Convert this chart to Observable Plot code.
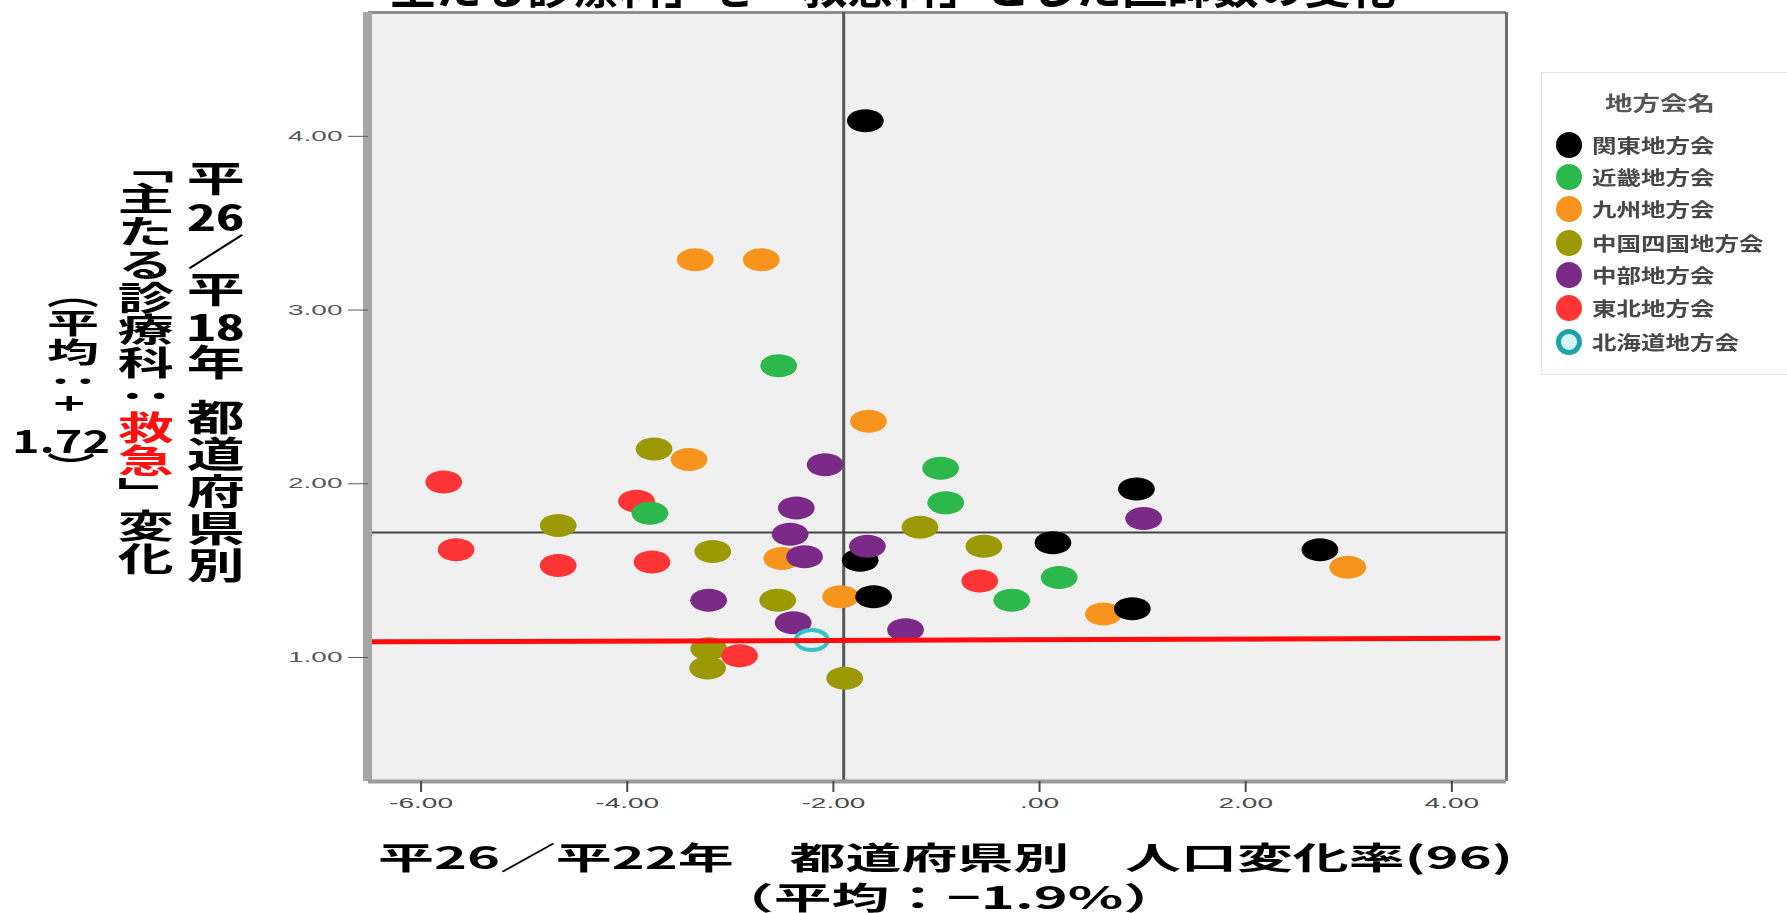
<!DOCTYPE html>
<html>
<head>
<meta charset="utf-8">
<script src="https://cdn.jsdelivr.net/npm/d3@7"></script>
<script src="https://cdn.jsdelivr.net/npm/@observablehq/plot@0.6"></script>
<style>
  body { margin: 0; background: #fff; }
  #wrap { position: relative; width: 1787px; height: 913px; overflow: hidden; background: #fff;
          font-family: "Noto Sans CJK JP", "Noto Sans", sans-serif; }
  #wrap > svg { position: absolute; left: 0; top: 0; }
  .t { position: absolute; white-space: nowrap; line-height: 1; transform-origin: 0 0; }
  .v { writing-mode: vertical-rl; text-orientation: mixed; }
  .tcy { text-combine-upright: all; }
</style>
</head>
<body>
<div id="wrap"></div>
<script>
// ---- scale settings ----
const xDomain = [-6.51, 4.53];
const yDomain = [0.286, 4.713];
const xTicks = [-6, -4, -2, 0, 2, 4];
const yTicks = [1, 2, 3, 4];
const meanX = [-1.9];
const meanY = [1.72];
const redLineX = [-6.5, 4.45];
const redLineY = [1.09, 1.11];

// ---- categories ----
const regionNames = ["関東地方会", "近畿地方会", "九州地方会", "中国四国地方会", "中部地方会", "東北地方会", "北海道地方会"];
const regionColors = ["#000000", "#2db84b", "#f7941d", "#9b9905", "#7b2a87", "#ff3434", "#36c2c9"];

// ---- series values (x: 人口変化率 %, y: 救急 変化) ----
const kantoX = [-1.69, -1.74, -1.61, 0.94, 0.13, 0.90, 2.72];
const kantoY = [4.09, 1.56, 1.35, 1.97, 1.66, 1.28, 1.62];
const kinkiX = [-2.53, -0.96, -3.78, -0.91, 0.19, -0.27];
const kinkiY = [2.68, 2.09, 1.83, 1.89, 1.46, 1.33];
const kyushuX = [-3.34, -2.70, -1.66, -3.40, -2.50, -1.93, 0.62, 2.99];
const kyushuY = [3.29, 3.29, 2.36, 2.14, 1.57, 1.35, 1.25, 1.52];
const chugokuShikokuX = [-3.74, -4.67, -1.16, -3.17, -2.54, -3.21, -3.22, -1.89, -0.54];
const chugokuShikokuY = [2.20, 1.76, 1.75, 1.61, 1.33, 1.05, 0.94, 0.88, 1.64];
const chubuX = [-2.08, -2.36, -2.42, -2.28, -1.67, -3.21, -2.39, -1.30, 1.01];
const chubuY = [2.11, 1.86, 1.71, 1.58, 1.64, 1.33, 1.20, 1.16, 1.80];
const tohokuX = [-5.78, -3.91, -5.66, -4.67, -3.76, -2.91, -0.58];
const tohokuY = [2.01, 1.90, 1.62, 1.53, 1.55, 1.01, 1.44];
const hokkaidoX = [-2.21];
const hokkaidoY = [1.10];

// ---- build tables ----
const drawOrder = [
  [kyushuX, kyushuY, 2], [kantoX, kantoY, 0], [chugokuShikokuX, chugokuShikokuY, 3],
  [tohokuX, tohokuY, 5], [kinkiX, kinkiY, 1], [chubuX, chubuY, 4]
];
const points = [];
drawOrder.forEach(([xs, ys, k]) => xs.forEach((x, i) => points.push({x, y: ys[i], region: regionNames[k]})));
const hokkaido = hokkaidoX.map((x, i) => ({x, y: hokkaidoY[i], region: regionNames[6]}));
const redLine = redLineX.map((x, i) => ({x, y: redLineY[i]}));

// wide ellipse symbol (the original figure is horizontally stretched)
const ellipseSymbol = {
  draw(context, size) {
    const r = Math.sqrt(size / Math.PI);
    const rx = r * 1.6, ry = r, k = 0.5522847498;
    context.moveTo(rx, 0);
    context.bezierCurveTo(rx, ry * k, rx * k, ry, 0, ry);
    context.bezierCurveTo(-rx * k, ry, -rx, ry * k, -rx, 0);
    context.bezierCurveTo(-rx, -ry * k, -rx * k, -ry, 0, -ry);
    context.bezierCurveTo(rx * k, -ry, rx, -ry * k, rx, 0);
    context.closePath();
  }
};

const chart = Plot.plot({
  width: 1787, height: 913,
  marginLeft: 368, marginRight: 281, marginTop: 12, marginBottom: 132,
  x: {domain: xDomain},
  y: {domain: yDomain},
  color: {domain: regionNames, range: regionColors},
  style: {background: "transparent", fontFamily: "'Liberation Sans', Arial, sans-serif", overflow: "visible"},
  marks: [
    Plot.frame({fill: "#f0f0f0"}),
    Plot.ruleY(yDomain.slice(1), {stroke: "#8e8e8e", strokeWidth: 3}),
    Plot.ruleX(xDomain.slice(1), {stroke: "#6f6f6f", strokeWidth: 3}),
    Plot.ruleX(meanX, {stroke: "#575757", strokeWidth: 3}),
    Plot.ruleY(meanY, {stroke: "#454545", strokeWidth: 2}),
    Plot.dot(points, {x: "x", y: "y", fill: "region", r: 11.5, symbol: ellipseSymbol}),
    Plot.dot(hokkaido, {x: "x", y: "y", stroke: "region", fill: "#e4f4f4", strokeWidth: 4, r: 10, symbol: ellipseSymbol}),
    Plot.line(redLine, {x: "x", y: "y", stroke: "#ff0d0d", strokeWidth: 5}),
    Plot.ruleX(xDomain.slice(0, 1), {stroke: "#a6a6a6", strokeWidth: 9, dx: -1}),
    Plot.ruleY(yDomain.slice(0, 1), {stroke: "#9a9a9a", strokeWidth: 4}),
    Plot.axisY({ticks: yTicks, tickFormat: d => d.toFixed(2), tickSize: 20, tickPadding: 6,
                fontSize: 14, color: "#5a5a5a", label: null}),
    Plot.axisX({ticks: xTicks, tickFormat: d => d === 0 ? ".00" : d.toFixed(2), tickSize: 11, tickPadding: 6,
                fontSize: 14, color: "#4a4a4a", strokeWidth: 2, label: null})
  ]
});

const wrap = document.getElementById("wrap");
wrap.appendChild(chart);

// stretch tick labels horizontally like the source image (glyph stretch via textLength)
chart.querySelectorAll('g[aria-label="y-axis tick label"] text, g[aria-label="x-axis tick label"] text').forEach(t => {
  const L = t.getComputedTextLength();
  if (L > 0) {
    t.setAttribute("textLength", (L * 2.0).toFixed(1));
    t.setAttribute("lengthAdjust", "spacingAndGlyphs");
  }
});

// ---- text helper: place and fit to a box ----
function addText(html, o) {
  const el = document.createElement("div");
  el.className = "t" + (o.vertical ? " v" : "");
  el.innerHTML = html;
  Object.assign(el.style, {
    left: o.left + "px", top: o.top + "px", fontSize: o.size + "px",
    fontWeight: o.weight || 700, color: o.color || "#000"
  });
  wrap.appendChild(el);
  const r = el.getBoundingClientRect();
  const sx = o.width ? o.width / r.width : 1;
  const sy = o.height ? o.height / r.height : 1;
  el.style.transform = `scale(${sx},${sy})`;
  return el;
}

// title (cut off at the top edge, as in the source)
addText("主たる診療科」を「救急科」とした医師数の変化", {left: 390, top: -37, size: 44, width: 1006});

// x-axis title
addText("平26／平22年　都道府県別　人口変化率(96)", {left: 378, top: 840, size: 31, width: 1135});
addText("（平均：−1.9%）", {left: 716, top: 880, size: 31, width: 465});

// y-axis title (vertical columns)
addText('平<span class="tcy">26</span>／平<span class="tcy">18</span>年\u2002都道府県別',
        {vertical: true, left: 186, top: 160, size: 34, width: 58, height: 423});
addText('「主たる診療科：<span style="color:#ff1010">救急</span>」変化',
        {vertical: true, left: 117, top: 150, size: 34, width: 56, height: 425});
addText('（平均：+', {vertical: true, left: 47, top: 280, size: 30, width: 52, height: 132});
addText('1.72', {left: 12, top: 423, size: 32, width: 98});
addText('）', {vertical: true, left: 47, top: 452, size: 30, width: 48});

// legend
const box = document.createElement("div");
Object.assign(box.style, {position: "absolute", left: "1541px", top: "72px", width: "260px", height: "301px",
  border: "1px solid #e4e4e4", background: "#fff"});
wrap.appendChild(box);
addText("地方会名", {left: 1605, top: 93, size: 20, width: 110, color: "#555"});
const legendRows = [145, 177, 209, 243, 275, 308, 342];
regionNames.forEach((name, i) => {
  const c = document.createElement("div");
  const hk = i === 6;
  Object.assign(c.style, {position: "absolute", left: (1569 - 13) + "px", top: (legendRows[i] - 13) + "px",
    width: "26px", height: "26px", borderRadius: "50%", boxSizing: "border-box",
    background: hk ? "#d6f7f8" : regionColors[i], border: hk ? "5px solid #1ea3a8" : "none",
    filter: "blur(0.6px)"});
  wrap.appendChild(c);
  addText(name, {left: 1592, top: legendRows[i] - 10, size: 19, width: 24.5 * name.length, color: "#474747"});
});
</script>
</body>
</html>
